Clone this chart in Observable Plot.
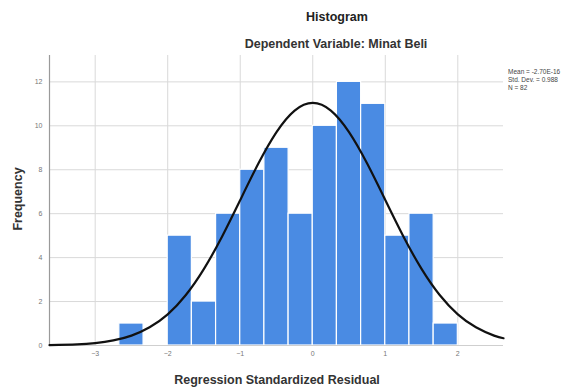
<!DOCTYPE html>
<html>
<head>
<meta charset="utf-8">
<script src="https://cdn.jsdelivr.net/npm/d3@7"></script>
<script src="https://cdn.jsdelivr.net/npm/@observablehq/plot@0.6"></script>
<style>
  html, body { margin: 0; padding: 0; background: #fff; }
  #wrap { position: relative; width: 571px; height: 387px; overflow: hidden; font-family: "Liberation Sans", Arial, sans-serif; }
  .t { position: absolute; white-space: nowrap; color: #222; line-height: 1; }
</style>
</head>
<body>
<div id="wrap"></div>
<script>
// Histogram bins (lower edge, upper edge) and counts
const binLow  = [-2.667, -2.333, -2.0, -1.667, -1.333, -1.0, -0.667, -0.333, 0.0, 0.333, 0.667, 1.0, 1.333, 1.667];
const binHigh = [-2.333, -2.0, -1.667, -1.333, -1.0, -0.667, -0.333, 0.0, 0.333, 0.667, 1.0, 1.333, 1.667, 2.0];
const counts  = [1, 0, 5, 2, 6, 8, 9, 6, 10, 12, 11, 5, 6, 1];

// Normal curve
const curveX = [-3.63, -3.25, -3.0, -2.75, -2.5, -2.25, -2.0, -1.75, -1.5, -1.25, -1.0, -0.75, -0.5, -0.25, 0.0, 0.25, 0.5, 0.75, 1.0, 1.25, 1.5, 1.75, 2.0, 2.25, 2.5, 2.63];
const curveY = [0.013, 0.05, 0.11, 0.23, 0.45, 0.83, 1.42, 2.30, 3.49, 4.96, 6.62, 8.28, 9.71, 10.69, 11.04, 10.69, 9.71, 8.28, 6.62, 4.96, 3.49, 2.30, 1.42, 0.83, 0.45, 0.33];

const xTicks = [-3, -2, -1, 0, 1, 2];
const yTicks = [0, 2, 4, 6, 8, 10, 12];
const statsLines = ["Mean = -2.70E-16", "Std. Dev. = 0.988", "N = 82"];

const bins = binLow.map((lo, i) => ({x1: lo, x2: binHigh[i], y: counts[i]})).filter(d => d.y > 0);
const curve = curveX.map((x, i) => ({x, y: curveY[i]}));

const chart = Plot.plot({
  width: 571,
  height: 387,
  marginLeft: 49,
  marginRight: 68,
  marginTop: 55,
  marginBottom: 42,
  style: {background: "#fff", fontFamily: "Liberation Sans, Arial, sans-serif"},
  x: {domain: [-3.63, 2.63], ticks: xTicks, label: null},
  y: {domain: [0, 13.2], ticks: yTicks, label: null},
  marks: [
    Plot.gridX(xTicks, {stroke: "#d9d9d9", strokeOpacity: 1, strokeWidth: 1}),
    Plot.gridY(yTicks.filter(d => d > 0), {stroke: "#d9d9d9", strokeOpacity: 1, strokeWidth: 1}),
    Plot.rectY(bins, {x1: "x1", x2: "x2", y: "y", fill: "#4a8be3", stroke: "#ffffff", strokeWidth: 1.2}),
    Plot.ruleY([0], {stroke: "#cfcfcf", strokeWidth: 1}),
    Plot.ruleX([-3.63], {stroke: "#9a9a9a", strokeWidth: 1.2}),
    Plot.line(curve, {x: "x", y: "y", curve: "natural", stroke: "#111", strokeWidth: 2.2}),
    Plot.axisX(xTicks, {tickSize: 0, tickPadding: 6, fontSize: 7, fill: "#777", label: null}),
    Plot.axisY(yTicks, {tickSize: 0, tickPadding: 7, fontSize: 7, fill: "#777", label: null})
  ]
});

const wrap = document.getElementById("wrap");
wrap.appendChild(chart);
chart.style.position = "absolute";
chart.style.left = "0px";
chart.style.top = "0px";

function addText(txt, css) {
  const d = document.createElement("div");
  d.className = "t";
  d.textContent = txt;
  Object.assign(d.style, css);
  wrap.appendChild(d);
  return d;
}
addText("Histogram", {fontSize: "12.5px", fontWeight: "bold", top: "11px", left: "337px", transform: "translateX(-50%)"});
addText("Dependent Variable: Minat Beli", {fontSize: "12.5px", fontWeight: "bold", top: "38px", left: "336px", transform: "translateX(-50%)", color: "#333"});
addText("Regression Standardized Residual", {fontSize: "12.5px", fontWeight: "bold", top: "374px", left: "277px", transform: "translateX(-50%)", color: "#333"});
addText("Frequency", {fontSize: "12.5px", fontWeight: "bold", top: "199px", left: "18px", transform: "translate(-50%,-50%) rotate(-90deg)", color: "#333"});
statsLines.forEach((s, i) => addText(s, {fontSize: "6.5px", top: (69 + i * 8) + "px", left: "508px", color: "#444"}));
</script>
</body>
</html>
